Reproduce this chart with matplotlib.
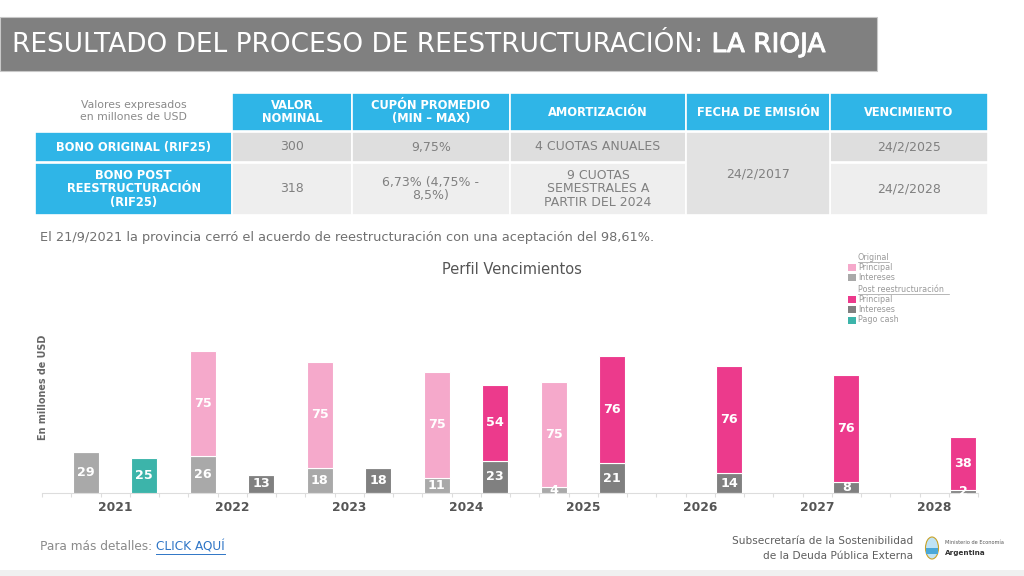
import matplotlib
matplotlib.use("Agg")
import matplotlib.pyplot as plt
from matplotlib.patches import Rectangle, Ellipse
import matplotlib.patheffects as pe
import numpy as np

plt.rcParams['font.family'] = ['DejaVu Sans']

# ---------------- data ----------------
years = [2021, 2022, 2023, 2024, 2025, 2026, 2027, 2028]
orig_intereses = [29, 26, 18, 11, 4, 0, 0, 0]
orig_principal = [0, 75, 75, 75, 75, 0, 0, 0]
post_intereses = [0, 13, 18, 23, 21, 14, 8, 2]
post_principal = [0, 0, 0, 54, 76, 76, 76, 38]
pago_cash = [25, 0, 0, 0, 0, 0, 0, 0]

col_headers = ["VALOR\nNOMINAL", "CUPÓN PROMEDIO\n(MIN – MAX)", "AMORTIZACIÓN",
               "FECHA DE EMISIÓN", "VENCIMIENTO"]
row_labels = ["BONO ORIGINAL (RIF25)", "BONO POST\nREESTRUCTURACIÓN\n(RIF25)"]
row1_values = ["300", "9,75%", "4 CUOTAS ANUALES", "24/2/2025"]
row2_values = ["318", "6,73% (4,75% -\n8,5%)", "9 CUOTAS\nSEMESTRALES A\nPARTIR DEL 2024", "24/2/2028"]
fecha_emision = "24/2/2017"

# colours
C_OP = "#f5a9cb"   # original principal
C_OI = "#a9a9a9"   # original intereses
C_PP = "#ec3a8c"   # post principal
C_PI = "#808080"   # post intereses
C_PC = "#3cb4aa"   # pago cash
BLUE = "#2fb5e7"

fig = plt.figure(figsize=(10.24, 5.76), dpi=100)
ov = fig.add_axes([0, 0, 1, 1])
ov.set_xlim(0, 1024)
ov.set_ylim(576, 0)
ov.axis("off")

# ---------------- title bar ----------------
ov.add_patch(Rectangle((0, 17), 877, 54, facecolor="#808080", edgecolor="#c8c8c8", lw=0.8))
t1 = ov.text(12, 45, "RESULTADO DEL PROCESO DE REESTRUCTURACIÓN: ", color="white",
             fontsize=19.0, va="center", ha="left")
fig.canvas.draw()
r = fig.canvas.get_renderer()
bb = t1.get_window_extent(r)
x_end = bb.x1
ov.text(x_end, 45, "LA RIOJA", color="white", fontsize=19.0, va="center", ha="left",
        path_effects=[pe.withStroke(linewidth=0.7, foreground="white")])

# ---------------- table ----------------
col_x = [35, 232, 352, 510, 686, 830, 988]
hdr_y0, hdr_y1 = 93, 131
r1_y0, r1_y1 = 132, 162
r2_y0, r2_y1 = 163, 215

ov.text((col_x[0] + col_x[1]) / 2, 111, "Valores expresados\nen millones de USD",
        color="#8a8a8a", fontsize=7.8, ha="center", va="center", linespacing=1.15)
for i, h in enumerate(col_headers):
    x0, x1 = col_x[i + 1], col_x[i + 2]
    ov.add_patch(Rectangle((x0, hdr_y0), x1 - x0, hdr_y1 - hdr_y0, facecolor=BLUE,
                           edgecolor="white", lw=1.2))
    ov.text((x0 + x1) / 2, (hdr_y0 + hdr_y1) / 2, h, color="white", fontsize=8.3,
            fontweight="bold", ha="center", va="center", linespacing=1.05)

for j, (lab, y0, y1) in enumerate([(row_labels[0], r1_y0, r1_y1), (row_labels[1], r2_y0, r2_y1)]):
    ov.add_patch(Rectangle((col_x[0], y0), col_x[1] - col_x[0], y1 - y0, facecolor=BLUE,
                           edgecolor="white", lw=1.2))
    ov.text((col_x[0] + col_x[1]) / 2, (y0 + y1) / 2, lab, color="white", fontsize=8.3,
            fontweight="bold", ha="center", va="center", linespacing=1.05)

data_cols = [1, 2, 3, 5]
for vals, y0, y1, fc in [(row1_values, r1_y0, r1_y1, "#dedede"),
                         (row2_values, r2_y0, r2_y1, "#eeeeee")]:
    for v, ci in zip(vals, data_cols):
        x0, x1 = col_x[ci], col_x[ci + 1]
        ov.add_patch(Rectangle((x0, y0), x1 - x0, y1 - y0, facecolor=fc,
                               edgecolor="white", lw=1.2))
        ov.text((x0 + x1) / 2, (y0 + y1) / 2, v, color="#808080", fontsize=9.0,
                ha="center", va="center", linespacing=1.05)
# merged fecha de emisión cell
ov.add_patch(Rectangle((col_x[4], r1_y0), col_x[5] - col_x[4], r2_y1 - r1_y0,
                       facecolor="#e2e2e2", edgecolor="white", lw=1.2))
ov.text((col_x[4] + col_x[5]) / 2, 174, fecha_emision, color="#808080", fontsize=9.0,
        ha="center", va="center")

ov.text(40, 237, "El 21/9/2021 la provincia cerró el acuerdo de reestructuración con una aceptación del 98,61%.",
        color="#707070", fontsize=9.3, ha="left", va="center")

# ---------------- chart ----------------
ov.text(512, 269, "Perfil Vencimientos", color="#555555", fontsize=10.5, ha="center", va="center")
ov.text(43, 387, "En millones de USD", color="#666666", fontsize=6.9, fontweight="bold",
        rotation=90, ha="center", va="center")

ax = fig.add_axes([42 / 1024, (576 - 493) / 576, 936 / 1024, 193 / 576])
ax.patch.set_alpha(0)
ax.set_xlim(2020.376, 2028.376)
ax.set_ylim(0, 137)
x = np.array(years, dtype=float)
w = 0.22
xo = x - 0.25
xp = x + 0.25

def bars(xs, vals, bottoms, color):
    b = ax.bar(xs, vals, w, bottom=bottoms, color=color, edgecolor="white", linewidth=0.8, zorder=3)
    for xi, v, bo in zip(xs, vals, bottoms):
        if v > 0:
            ax.text(xi, bo + v / 2, f"{v}", color="white", fontsize=9.2, fontweight="bold",
                    ha="center", va="center", zorder=4)
    return b

zeros = np.zeros(len(years))
bars(xo, orig_intereses, zeros, C_OI)
bars(xo, orig_principal, np.array(orig_intereses, float), C_OP)
bars(xp, post_intereses, zeros, C_PI)
bars(xp, post_principal, np.array(post_intereses, float), C_PP)
bars(xp, pago_cash, zeros, C_PC)

for s in ["top", "right", "left"]:
    ax.spines[s].set_visible(False)
ax.spines["bottom"].set_color("#dddddd")
ax.spines["bottom"].set_linewidth(0.8)
ax.set_yticks([])
minor = np.arange(2020.376, 2028.40, 0.25)
ax.set_xticks(minor, minor=True)
ax.set_xticks(years)
ax.set_xticklabels([str(y) for y in years], fontsize=8.8, fontweight="bold", color="#555555")
ax.tick_params(axis="x", which="major", length=0, pad=6)
ax.tick_params(axis="x", which="minor", length=3, color="#dddddd", width=0.8)

# ---------------- legend ----------------
lx = 848
ov.text(lx + 10, 257, "Original", color="#9a9a9a", fontsize=5.8, va="center", ha="left")
ov.plot([lx + 10, lx + 41], [261.5, 261.5], color="#9a9a9a", lw=0.5)
legend_items = [(267, C_OP, "Principal"), (277, C_OI, "Intereses"),
                (299, C_PP, "Principal"), (309, C_PI, "Intereses"), (320, C_PC, "Pago cash")]
ov.text(lx + 10, 289, "Post reestructuración", color="#9a9a9a", fontsize=5.8, va="center", ha="left")
ov.plot([lx + 10, lx + 101], [293.5, 293.5], color="#9a9a9a", lw=0.5)
for yy, c, lab in legend_items:
    ov.add_patch(Rectangle((lx, yy - 3.5), 8, 7.5, facecolor=c, edgecolor="none"))
    ov.text(lx + 10, yy, lab, color="#9a9a9a", fontsize=5.8, va="center", ha="left")

# ---------------- footer ----------------
tf = ov.text(40, 547, "Para más detalles: ", color="#8a8a8a", fontsize=8.7, va="center", ha="left")
fig.canvas.draw()
bbf = tf.get_window_extent(fig.canvas.get_renderer())
tc = ov.text(bbf.x1, 547, "CLICK AQUÍ", color="#2e75c6", fontsize=8.7, va="center", ha="left")
fig.canvas.draw()
bbc = tc.get_window_extent(fig.canvas.get_renderer())
ov.plot([bbc.x0, bbc.x1], [553.5, 553.5], color="#2e75c6", lw=0.7)

ov.text(913, 541, "Subsecretaría de la Sostenibilidad", color="#5e5e5e", fontsize=7.6,
        ha="right", va="center")
ov.text(913, 556, "de la Deuda Pública Externa", color="#5e5e5e", fontsize=7.6,
        ha="right", va="center")
ov.add_patch(Ellipse((932, 548), 13, 22, facecolor="#bfe3f5", edgecolor="#c9a227", lw=0.8))
ov.add_patch(Rectangle((926, 548), 12, 6, facecolor="#4aa8d8", edgecolor="none"))
ov.text(945, 543, "Ministerio de Economía", color="#555555", fontsize=3.6, ha="left", va="center")
ov.text(945, 553, "Argentina", color="#333333", fontsize=5.2, ha="left", va="center", fontweight="bold")

ov.add_patch(Rectangle((0, 570), 1024, 6, facecolor="#f0f0f0", edgecolor="none"))

fig.savefig("out.png", dpi=100)
